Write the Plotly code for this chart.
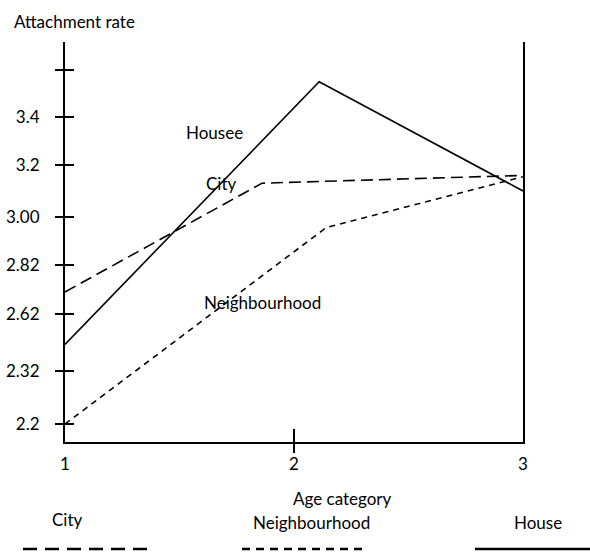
import numpy as np
import plotly.graph_objects as go

# ---- data ----
age_ticks = [1, 2, 3]
y_tick_labels = ["2.2", "2.32", "2.62", "2.82", "3.00", "3.2", "3.4", ""]
y_tick_values = [2.2, 2.32, 2.62, 2.82, 3.00, 3.2, 3.4, 3.6]

house_x = [1, 2.11, 3]
house_y = [2.46, 3.55, 3.10]
city_x = [1, 1.86, 3]
city_y = [2.71, 3.13, 3.16]
neigh_x = [1, 2.14, 3]
neigh_y = [2.2, 2.96, 3.155]

# The printed axis is not linear: each tick label sits at its own place on the axis.
tick_pos = [18, 71, 128, 177, 225, 277, 325, 372]
y_range = [0, 400]


def to_axis(vals):
    return list(np.interp(vals, y_tick_values, tick_pos))


FONT = "Lato"
FS = 17
INK = "black"

fig = go.Figure()
fig.add_trace(go.Scatter(x=house_x, y=to_axis(house_y), mode="lines",
                         line=dict(color=INK, width=1.6), showlegend=False, hoverinfo="skip"))
fig.add_trace(go.Scatter(x=city_x, y=to_axis(city_y), mode="lines",
                         line=dict(color=INK, width=1.6, dash="12px,6px"), showlegend=False, hoverinfo="skip"))
fig.add_trace(go.Scatter(x=neigh_x, y=to_axis(neigh_y), mode="lines",
                         line=dict(color=INK, width=1.6, dash="6px,5px"), showlegend=False, hoverinfo="skip"))
# invisible helpers so the overlay tick axes are drawn
fig.add_trace(go.Scatter(x=[None], y=[None], xaxis="x2", yaxis="y2", showlegend=False, hoverinfo="skip"))
fig.add_trace(go.Scatter(x=[None], y=[None], xaxis="x3", yaxis="y2", showlegend=False, hoverinfo="skip"))

fig.update_layout(
    width=590, height=556,
    margin=dict(l=65, r=67, t=42, b=114),
    paper_bgcolor="white", plot_bgcolor="white",
    font=dict(family=FONT, size=FS, color=INK),
    xaxis=dict(range=[1, 3], tickvals=age_ticks, ticktext=[str(a) for a in age_ticks],
               ticks="", showgrid=False, zeroline=False, showline=True, automargin=False,
               linecolor=INK, linewidth=2, ticklabelstandoff=6,
               tickfont=dict(family=FONT, size=FS)),
    xaxis2=dict(range=[1, 3], overlaying="x", anchor="y", side="bottom", tickvals=[2],
                ticks="outside", ticklen=10, tickwidth=2, tickcolor=INK, automargin=False,
                showticklabels=False, showgrid=False, zeroline=False, showline=False),
    xaxis3=dict(range=[1, 3], overlaying="x", anchor="y", side="bottom", tickvals=[2],
                ticks="inside", ticklen=13, tickwidth=2, tickcolor=INK, automargin=False,
                showticklabels=False, showgrid=False, zeroline=False, showline=False),
    yaxis=dict(range=y_range, tickvals=tick_pos, ticktext=y_tick_labels,
               ticks="outside", ticklen=8, tickwidth=2, tickcolor=INK, automargin=False,
               showgrid=False, zeroline=False, showline=True, mirror=True,
               linecolor=INK, linewidth=2, ticklabelstandoff=12,
               tickfont=dict(family=FONT, size=FS)),
    yaxis2=dict(range=y_range, overlaying="y", side="left", anchor="x", tickvals=tick_pos,
                ticks="inside", ticklen=9, tickwidth=2, tickcolor=INK, automargin=False,
                showticklabels=False, showgrid=False, zeroline=False, showline=False),
)


def px_x(p):
    return (p - 65) / 458


def px_y(p):
    return (442 - p) / 400


texts = [
    ("Attachment rate", 74, 22),
    ("Housee", 214, 132),
    ("City", 221, 183),
    ("Neighbourhood", 262, 302),
    ("Age category", 342, 498),
    ("City", 67.5, 519),
    ("Neighbourhood", 311, 522),
    ("House", 538, 522),
]
for t, x, y in texts:
    fig.add_annotation(text=t, x=px_x(x), y=px_y(y), xref="paper", yref="paper",
                       xanchor="center", yanchor="middle", showarrow=False,
                       font=dict(family=FONT, size=FS, color=INK))

legend_lines = [
    (23, 149, "14px,8px", 2.5),
    (242, 363, "8px,6px", 2.5),
    (475, 590, "solid", 2.5),
]
for x0, x1, d, w in legend_lines:
    fig.add_shape(type="line", xref="paper", yref="paper",
                  x0=px_x(x0), x1=px_x(x1), y0=px_y(549), y1=px_y(549),
                  line=dict(color=INK, width=w, dash=d))

fig.write_html("out.html", config={"displayModeBar": False},
               post_script="document.body.style.margin='0';document.body.style.padding='0';")
